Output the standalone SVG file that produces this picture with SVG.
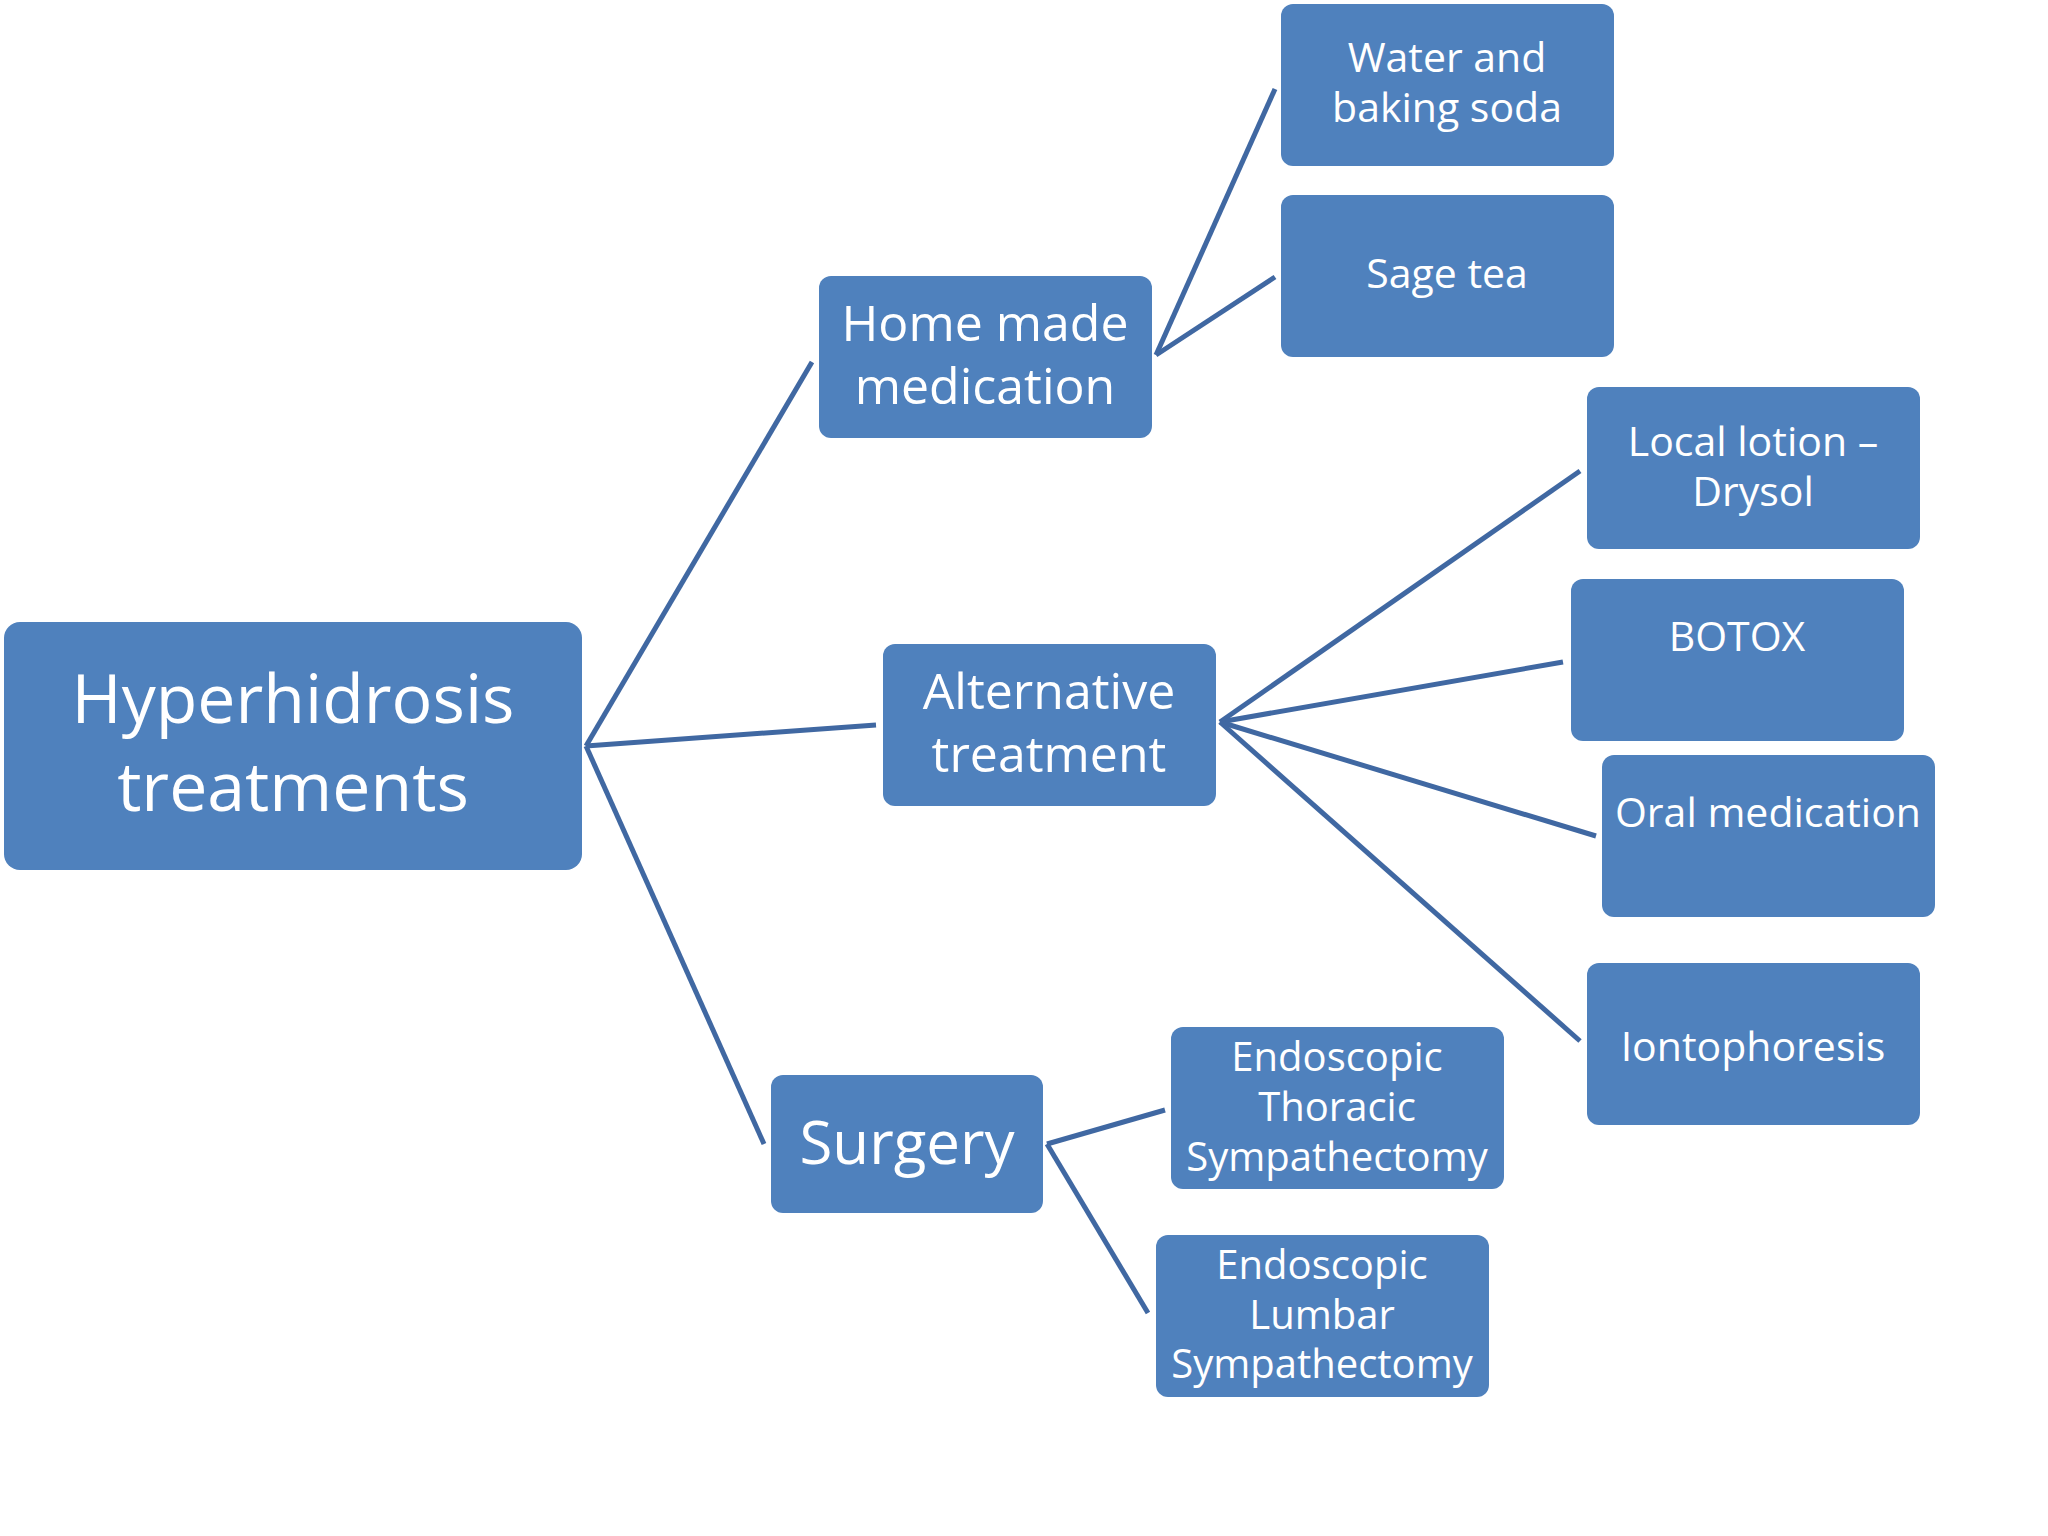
<svg xmlns="http://www.w3.org/2000/svg" width="2048" height="1536" viewBox="0 0 2048 1536">
<style>
rect{fill:#4f81bd}
text{fill:#fff;font-family:"Open Sans","DejaVu Sans",sans-serif;text-anchor:middle}
.s{font-size:41px}
.t{font-size:40px}
.m{font-size:50px}
line{stroke:#4068a2;stroke-width:5}
</style>
<rect width="2048" height="1536" style="fill:#fff"/>
<g id="connectors">
<line x1="586" y1="746" x2="812" y2="362"/>
<line x1="586" y1="746" x2="876" y2="725"/>
<line x1="586" y1="746" x2="764" y2="1144"/>
<line x1="1156" y1="355" x2="1275" y2="89"/>
<line x1="1156" y1="355" x2="1275" y2="277"/>
<line x1="1220" y1="722" x2="1580" y2="471"/>
<line x1="1220" y1="722" x2="1563" y2="662"/>
<line x1="1220" y1="722" x2="1596" y2="836"/>
<line x1="1220" y1="722" x2="1580" y2="1041"/>
<line x1="1047" y1="1144" x2="1165" y2="1110"/>
<line x1="1047" y1="1144" x2="1148" y2="1313"/>
</g>
<g id="root"><rect x="4" y="622" width="578" height="248" rx="16"/><text x="293" y="723" style="font-size:68px">Hyperhidrosis</text><text x="293" y="811" style="font-size:68px">treatments</text></g>
<g id="home"><rect x="819" y="276" width="333" height="162" rx="12"/><text class="m" x="985" y="341">Home made</text><text class="m" x="985" y="404">medication</text></g>
<g id="alt"><rect x="883" y="644" width="333" height="162" rx="12"/><text class="m" x="1049" y="709">Alternative</text><text class="m" x="1049" y="772">treatment</text></g>
<g id="surgery"><rect x="771" y="1075" width="272" height="138" rx="12"/><text x="907" y="1164" style="font-size:60px">Surgery</text></g>
<g id="water"><rect x="1281" y="4" width="333" height="162" rx="12"/><text class="s" x="1447" y="72">Water and</text><text class="s" x="1447" y="122">baking soda</text></g>
<g id="sage"><rect x="1281" y="195" width="333" height="162" rx="12"/><text class="s" x="1447" y="288">Sage tea</text></g>
<g id="lotion"><rect x="1587" y="387" width="333" height="162" rx="12"/><text class="s" x="1753" y="456">Local lotion –</text><text class="s" x="1753" y="506">Drysol</text></g>
<g id="botox"><rect x="1571" y="579" width="333" height="162" rx="12"/><text class="s" x="1737" y="651">BOTOX</text></g>
<g id="oral"><rect x="1602" y="755" width="333" height="162" rx="12"/><text class="s" x="1768" y="827">Oral medication</text></g>
<g id="ionto"><rect x="1587" y="963" width="333" height="162" rx="12"/><text class="s" x="1753" y="1061">Iontophoresis</text></g>
<g id="ets"><rect x="1171" y="1027" width="333" height="162" rx="12"/><text class="t" x="1337" y="1071">Endoscopic</text><text class="t" x="1337" y="1121">Thoracic</text><text class="t" x="1337" y="1171">Sympathectomy</text></g>
<g id="els"><rect x="1156" y="1235" width="333" height="162" rx="12"/><text class="t" x="1322" y="1279">Endoscopic</text><text class="t" x="1322" y="1329">Lumbar</text><text class="t" x="1322" y="1378">Sympathectomy</text></g>
</svg>
